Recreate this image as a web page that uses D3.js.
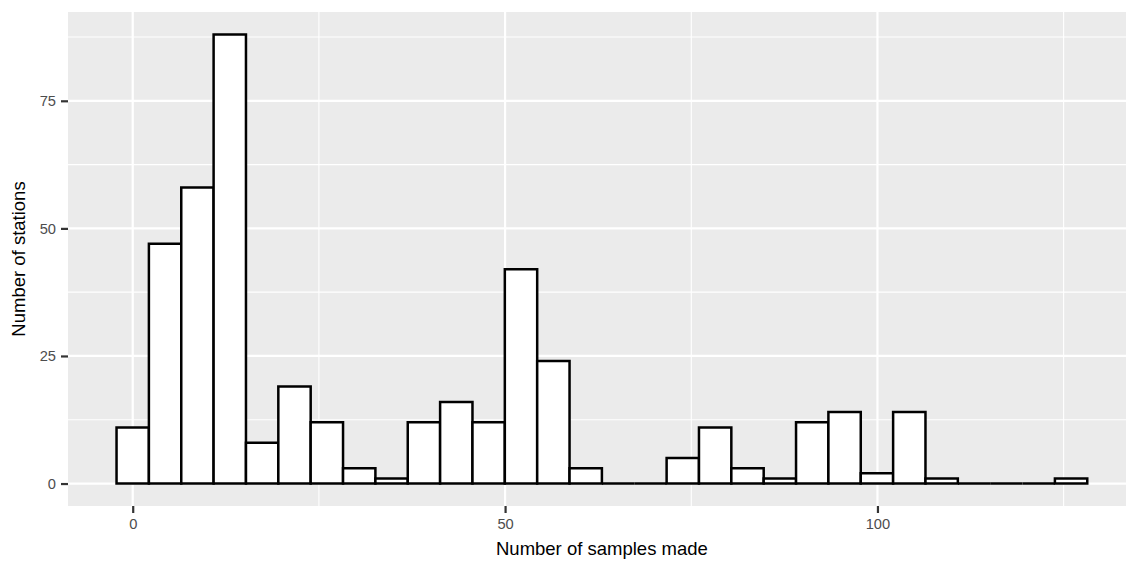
<!DOCTYPE html>
<html>
<head>
<meta charset="utf-8">
<script src="https://cdn.jsdelivr.net/npm/d3@7"></script>
<style>
  html, body { margin: 0; padding: 0; background: #fff; }
  svg { display: block; font-family: "Liberation Sans", Arial, Helvetica, sans-serif; }
</style>
</head>
<body>
<svg id="chart" width="1126" height="561"></svg>
<script>
// Bin centres (ggplot default 30 bins over 0..126)
const binCenters = [0, 4.345, 8.690, 13.034, 17.379, 21.724, 26.069, 30.414, 34.759, 39.103,
  43.448, 47.793, 52.138, 56.483, 60.828, 65.172, 69.517, 73.862, 78.207, 82.552,
  86.897, 91.241, 95.586, 99.931, 104.276, 108.621, 112.966, 117.310, 121.655, 126];
const binWidth = 4.345;
// Counts per bin
const counts = [11, 47, 58, 88, 8, 19, 12, 3, 1, 12, 16, 12, 42, 24, 3, 0, 0, 5, 11, 3,
  1, 12, 14, 2, 14, 1, 0, 0, 0, 1];
const xTicks = [0, 50, 100];
const xMinor = [25, 75, 125];
const yTicks = [0, 25, 50, 75];
const yMinor = [12.5, 37.5, 62.5, 87.5];
const xTitle = "Number of samples made";
const yTitle = "Number of stations";

const svg = d3.select("#chart");
const panel = { left: 68, right: 1135.8, top: 12, bottom: 506 };

const x = d3.scaleLinear().domain([-8.69, 134.69]).range([panel.left, panel.right]);
const y = d3.scaleLinear().domain([-4.4, 92.4]).range([panel.bottom, panel.top]);

// panel background
svg.append("rect")
  .attr("x", panel.left).attr("y", panel.top)
  .attr("width", panel.right - panel.left).attr("height", panel.bottom - panel.top)
  .attr("fill", "#EBEBEB");

const grid = svg.append("g");
grid.selectAll(".ymin").data(yMinor).join("line")
  .attr("x1", panel.left).attr("x2", panel.right)
  .attr("y1", d => y(d)).attr("y2", d => y(d))
  .attr("stroke", "#fff").attr("stroke-width", 1.1);
grid.selectAll(".xmin").data(xMinor).join("line")
  .attr("y1", panel.top).attr("y2", panel.bottom)
  .attr("x1", d => x(d)).attr("x2", d => x(d))
  .attr("stroke", "#fff").attr("stroke-width", 1.1);
grid.selectAll(".ymaj").data(yTicks).join("line")
  .attr("x1", panel.left).attr("x2", panel.right)
  .attr("y1", d => y(d)).attr("y2", d => y(d))
  .attr("stroke", "#fff").attr("stroke-width", 2.2);
grid.selectAll(".xmaj").data(xTicks).join("line")
  .attr("y1", panel.top).attr("y2", panel.bottom)
  .attr("x1", d => x(d)).attr("x2", d => x(d))
  .attr("stroke", "#fff").attr("stroke-width", 2.2);

// bars
const bars = binCenters.map((c, i) => ({ c, n: counts[i] }));
svg.append("g").selectAll("path").data(bars).join("path")
  .attr("d", d => {
    const x0 = x(d.c - binWidth / 2), x1 = x(d.c + binWidth / 2);
    const y0 = y(0), y1 = y(d.n);
    return `M${x0},${y0}V${y1}H${x1}V${y0}Z`;
  })
  .attr("fill", "#fff")
  .attr("stroke", "#000")
  .attr("stroke-width", 2.5)
  .attr("stroke-linejoin", "miter");

// axes
const xAxis = svg.append("g")
  .attr("transform", `translate(0,${panel.bottom})`)
  .call(d3.axisBottom(x).tickValues(xTicks).tickFormat(d3.format("d")).tickSize(7).tickPadding(6));
const yAxis = svg.append("g")
  .attr("transform", `translate(${panel.left},0)`)
  .call(d3.axisLeft(y).tickValues(yTicks).tickFormat(d3.format("d")).tickSize(7).tickPadding(5));
[xAxis, yAxis].forEach(a => {
  a.select(".domain").remove();
  a.selectAll(".tick line").attr("stroke", "#333333").attr("stroke-width", 2.2);
  a.selectAll(".tick text").attr("fill", "#4D4D4D").style("font-size", "14.7px")
    .style("font-family", "'Liberation Sans', Arial, sans-serif");
});

// titles
svg.append("text")
  .attr("x", (panel.left + panel.right) / 2).attr("y", 555)
  .attr("text-anchor", "middle").style("font-size", "18.5px").attr("fill", "#000")
  .text(xTitle);
svg.append("text")
  .attr("transform", `translate(25,${(panel.top + panel.bottom) / 2}) rotate(-90)`)
  .attr("text-anchor", "middle").style("font-size", "18.5px").attr("fill", "#000")
  .text(yTitle);
</script>
</body>
</html>
